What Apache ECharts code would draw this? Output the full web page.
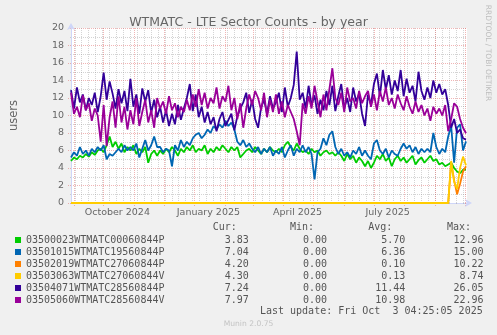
<!DOCTYPE html>
<html><head><meta charset="utf-8">
<script src="https://cdn.jsdelivr.net/npm/echarts@6/dist/echarts.min.js"></script>
<style>html,body{margin:0;padding:0;background:#F0F0F0}#c{width:497px;height:335px}</style>
</head><body><div id="c"></div>
<script>
// ---- text ----
const chartTitle = 'WTMATC - LTE Sector Counts - by year';
const yAxisName = 'users';
const sideText = 'RRDTOOL / TOBI OETIKER';
const lastUpdate = 'Last update: Fri Oct  3 04:25:05 2025';
const footer = 'Munin 2.0.75';
const statHeaders = ['Cur:', 'Min:', 'Avg:', 'Max:'];

// ---- axes ----
const startTime = '2024-08-29T04:25:05Z';
const endTime = '2025-10-03T04:25:05Z';
const stepDays = 3;
const yTicks = [0, 2, 4, 6, 8, 10, 12, 14, 16, 18, 20];
const monthLabels = ['October 2024', 'January 2025', 'April 2025', 'July 2025'];
const monthLabelDates = ['2024-10-15', '2025-01-15', '2025-04-15', '2025-07-15'];

// ---- series ----
const seriesNames = ['03500023WTMATC00060844P', '03501015WTMATC19560844P', '03502019WTMATC27060844P',
  '03503063WTMATC27060844V', '03504071WTMATC28560844P', '03505060WTMATC28560844V'];
const seriesColors = ['#00CC00', '#0066B3', '#FF8000', '#FFCC00', '#330099', '#990099'];

const green = [
  4.8, 5.2, 5.0, 5.4, 5.2, 5.6, 5.3, 5.8, 5.5, 6.0,
  6.2, 5.8, 6.6, 7.6, 6.4, 7.0, 6.2, 6.8, 5.8, 6.4,
  6.0, 6.6, 5.6, 6.2, 5.8, 6.4, 4.6, 5.6, 6.0, 5.4,
  6.0, 5.6, 6.2, 5.8, 6.4, 6.0, 5.4, 6.2, 5.8, 6.4,
  6.0, 6.6, 5.8, 6.2, 6.0, 6.6, 5.6, 6.2, 5.8, 6.4,
  6.0, 6.6, 6.2, 5.8, 6.4, 6.0, 6.4, 5.2, 5.6, 6.0,
  6.2, 5.8, 6.4, 6.0, 5.6, 6.2, 5.8, 6.4, 6.0, 5.8,
  6.2, 5.8, 6.6, 7.0, 6.4, 6.0, 6.8, 6.2, 5.8, 6.0,
  5.6, 6.2, 5.8, 6.0, 5.4, 5.8, 6.0, 5.6, 5.8, 5.4,
  5.8, 5.4, 4.8, 5.6, 5.0, 5.4, 4.6, 5.2, 4.8, 4.2,
  4.8, 4.0, 4.6, 5.4, 5.0, 5.6, 4.8, 5.2, 4.2, 5.0,
  5.4, 4.8, 5.2, 4.6, 5.0, 5.4, 4.4, 4.9, 5.2, 4.6,
  5.0, 5.4, 4.8, 5.0, 4.4, 4.6, 4.2, 4.4, 4.6, 4.0,
  3.6, 3.4, 3.8, 3.83];
const blue = [
  5.2, 5.8, 5.4, 6.4, 5.6, 6.0, 5.4, 6.2, 5.8, 6.4,
  6.0, 6.6, 5.0, 5.6, 5.4, 5.8, 6.2, 5.8, 6.6, 6.0,
  6.4, 6.0, 6.8, 5.2, 6.2, 7.2, 6.0, 6.6, 7.6, 6.4,
  6.4, 5.8, 6.2, 6.0, 4.2, 6.6, 6.0, 7.2, 6.4, 7.0,
  6.6, 7.4, 7.8, 8.0, 7.4, 7.8, 8.4, 8.0, 8.8, 8.4,
  9.0, 8.6, 9.4, 8.8, 9.2, 8.4, 7.0, 6.6, 7.2, 6.4,
  6.8, 6.2, 5.8, 6.4, 5.6, 6.2, 5.8, 6.4, 5.4, 6.0,
  5.6, 6.4, 5.2, 6.0, 6.6, 5.4, 6.2, 5.8, 6.6, 5.8,
  6.4, 5.6, 2.7, 5.8, 6.2, 7.4, 6.6, 7.8, 8.2, 6.4,
  5.6, 6.2, 5.4, 5.8, 5.2, 6.0, 5.6, 6.4, 5.4, 6.0,
  5.4, 5.0, 6.8, 7.2, 6.0, 5.6, 6.2, 5.2, 6.0, 5.6,
  5.4, 6.2, 6.8, 6.2, 6.6, 5.8, 6.4, 5.6, 6.2, 5.8,
  6.2, 5.8, 8.0, 6.4, 5.6, 6.2, 5.8, 7.6, 8.8, 4.6,
  8.6, 9.0, 6.0, 7.04];
const orange = [
  0, 0, 0, 0, 0, 0, 0, 0, 0, 0, 0, 0, 0, 0, 0, 0,
  0, 0, 0, 0, 0, 0, 0, 0, 0, 0, 0, 0, 0, 0, 0, 0,
  0, 0, 0, 0, 0, 0, 0, 0, 0, 0, 0, 0, 0, 0, 0, 0,
  0, 0, 0, 0, 0, 0, 0, 0, 0, 0, 0, 0, 0, 0, 0, 0,
  0, 0, 0, 0, 0, 0, 0, 0, 0, 0, 0, 0, 0, 0, 0, 0,
  0, 0, 0, 0, 0, 0, 0, 0, 0, 0, 0, 0, 0, 0, 0, 0,
  0, 0, 0, 0, 0, 0, 0, 0, 0, 0, 0, 0, 0, 0, 0, 0,
  0, 0, 0, 0, 0, 0, 0, 0, 0, 0, 0, 0, 0, 0, 0, 0,
  4.6, 2.6, 1.0, 2.2, 3.6, 4.2];
const yellow = [
  0, 0, 0, 0, 0, 0, 0, 0, 0, 0, 0, 0, 0, 0, 0, 0,
  0, 0, 0, 0, 0, 0, 0, 0, 0, 0, 0, 0, 0, 0, 0, 0,
  0, 0, 0, 0, 0, 0, 0, 0, 0, 0, 0, 0, 0, 0, 0, 0,
  0, 0, 0, 0, 0, 0, 0, 0, 0, 0, 0, 0, 0, 0, 0, 0,
  0, 0, 0, 0, 0, 0, 0, 0, 0, 0, 0, 0, 0, 0, 0, 0,
  0, 0, 0, 0, 0, 0, 0, 0, 0, 0, 0, 0, 0, 0, 0, 0,
  0, 0, 0, 0, 0, 0, 0, 0, 0, 0, 0, 0, 0, 0, 0, 0,
  0, 0, 0, 0, 0, 0, 0, 0, 0, 0, 0, 0, 0, 0, 0, 0,
  4.8, 2.4, 1.6, 4.0, 5.3, 4.3];
const indigo = [
  12.9, 10.8, 13.2, 11.5, 12.4, 10.6, 12.0, 11.2, 12.6, 10.4,
  12.2, 14.9, 11.8, 13.9, 12.5, 10.8, 13.0, 11.4, 12.8, 10.5,
  14.2, 11.0, 12.4, 10.2, 13.1, 11.6, 12.9, 10.3, 11.8, 9.8,
  11.0, 9.2, 10.6, 8.8, 10.2, 9.0, 11.2, 9.5, 10.8, 12.0,
  13.6, 10.5, 12.4, 9.8, 11.0, 9.2, 10.4, 9.0, 9.8, 8.2,
  9.6, 10.4, 8.8, 9.5, 10.2, 8.3, 9.9, 10.8, 11.5, 12.6,
  10.3, 11.8, 9.6, 8.6, 10.9, 11.8, 10.2, 12.2, 10.8, 11.5,
  12.6, 10.4, 13.2, 11.0, 12.0, 13.5, 17.3, 11.8, 12.6, 10.8,
  13.4, 11.2, 12.3, 10.2, 11.8, 10.6, 12.8, 11.2, 13.4, 10.5,
  12.2, 13.6, 10.8, 12.0, 10.4, 13.2, 11.6, 12.5, 10.2, 8.8,
  12.4, 11.2, 13.6, 14.8, 12.2, 15.2, 13.0, 14.6, 12.4, 14.0,
  12.8, 15.2, 12.2, 14.2, 12.6, 13.4, 11.6, 15.0, 12.8, 11.8,
  13.2, 12.0, 14.0, 12.6, 13.6, 12.4, 13.0, 11.2, 8.6, 9.6,
  8.0, 8.4, 7.4, 7.24];
const magenta = [
  12.6, 10.2, 11.0, 9.8, 12.3, 10.6, 11.4, 9.4, 10.8, 10.0,
  7.0, 11.2, 6.5, 9.8, 11.6, 8.6, 12.2, 9.2, 11.0, 8.4,
  10.6, 9.0, 12.0, 8.8, 10.4, 11.8, 9.2, 10.6, 8.6, 12.0,
  10.8, 11.6, 10.2, 12.2, 10.6, 11.4, 9.8, 11.0, 10.4, 11.8,
  10.6, 12.4, 11.0, 13.0, 11.2, 12.6, 10.8, 12.0, 11.4, 13.2,
  10.8, 12.2, 11.6, 13.4, 10.6, 12.0, 9.6, 11.4, 8.6, 10.8,
  12.4, 11.2, 12.8, 12.0, 10.6, 12.6, 9.8, 11.8, 10.4, 12.4,
  10.2, 11.6, 9.8, 11.2, 10.4, 9.6, 8.2, 6.6, 11.4, 10.2,
  12.2, 10.8, 13.4, 11.6, 9.8, 12.4, 10.6, 13.0, 15.4, 12.0,
  11.2, 12.6, 10.4, 13.2, 11.6, 12.0, 10.8, 12.8, 11.4, 12.2,
  12.8, 11.0, 12.4, 10.6, 12.8, 11.6, 13.2, 11.2, 12.0, 10.8,
  12.4, 11.4, 10.6, 12.2, 11.0, 10.2, 11.6, 10.4, 11.2, 10.0,
  10.8, 9.4, 11.0, 10.2, 10.8, 10.0, 11.2, 8.2, 9.6, 11.4,
  11.0, 9.6, 8.6, 7.97];

// ---- legend stats ----
const curVals = ['3.83', '7.04', '4.20', '4.30', '7.24', '7.97'];
const minVals = ['0.00', '0.00', '0.00', '0.00', '0.00', '0.00'];
const avgVals = ['5.70', '6.36', '0.10', '0.13', '11.44', '10.98'];
const maxVals = ['12.96', '15.00', '10.22', '8.74', '26.05', '22.96'];

// ---- build (x in days since start) ----
const DAY = 86400000;
const t0 = Date.parse(startTime), t1 = Date.parse(endTime);
const spanDays = (t1 - t0) / DAY;
const toDay = t => (t - t0) / DAY;
const allValues = [green, blue, orange, yellow, indigo, magenta];

const weekTicks = [];
for (let t = Date.UTC(2024, 8, 2); t <= t1; t += 7 * DAY) if (t >= t0) weekTicks.push(toDay(t));
const monthTicks = [];
for (let m = 8; ; m++) { const t = Date.UTC(2024, m, 1); if (t > t1) break; if (t >= t0) monthTicks.push(toDay(t)); }
const labelDays = monthLabelDates.map(d => toDay(Date.parse(d + 'T00:00:00Z')));

const minorGrid = { color: 'rgba(143,143,143,0.38)', width: 1, type: [1, 1] };
const majorGrid = { color: 'rgba(222,79,79,0.42)', width: 1, type: [1, 1] };
const axisCol = '#CFD6F8';
const fontCol = '#666666';
const mono = '"DejaVu Sans Mono", monospace';
const sans = '"DejaVu Sans", sans-serif';

function legendLine(name) {
  const i = seriesNames.indexOf(name);
  return name + curVals[i].padStart(14) + minVals[i].padStart(13) + avgVals[i].padStart(13) + maxVals[i].padStart(13);
}
function labelFor(v) {
  let best = 0, bd = Infinity;
  labelDays.forEach((d, i) => { const e = Math.abs(d - v); if (e < bd) { bd = e; best = i; } });
  return monthLabels[best];
}

const chart = echarts.init(document.getElementById('c'), null, { renderer: 'canvas' });
chart.setOption({
  animation: false,
  backgroundColor: '#F0F0F0',
  title: {
    text: chartTitle, left: 'center', top: 11,
    textStyle: { fontSize: 12.5, fontWeight: 'normal', color: fontCol, fontFamily: sans }
  },
  grid: { left: 67, right: 30, top: 28, bottom: 132, show: true, backgroundColor: '#FFFFFF', borderWidth: 0 },
  legend: {
    orient: 'vertical', left: 15, top: 234, itemWidth: 6, itemHeight: 6, itemGap: 0,
    icon: 'rect', selectedMode: false, padding: 0,
    itemStyle: { borderWidth: 0 },
    data: seriesNames,
    formatter: legendLine,
    textStyle: { fontFamily: mono, fontSize: 10, color: '#555', lineHeight: 12 }
  },
  xAxis: [
    {
      type: 'value', min: 0, max: spanDays,
      axisLine: { show: true, onZero: false, lineStyle: { color: axisCol, width: 1 }, symbol: ['none', 'arrow'], symbolSize: [6, 7], symbolOffset: [0, 5] },
      axisTick: { show: true, length: 2, lineStyle: minorGrid, customValues: weekTicks },
      axisLabel: { show: false },
      splitLine: { show: true, lineStyle: minorGrid }
    },
    {
      type: 'value', min: 0, max: spanDays, position: 'bottom',
      axisLine: { show: false, onZero: false },
      axisTick: { show: true, length: 3, lineStyle: majorGrid, customValues: monthTicks },
      axisLabel: { show: true, customValues: labelDays, margin: 5, color: fontCol, fontSize: 9.5, fontFamily: sans, formatter: labelFor },
      splitLine: { show: true, lineStyle: majorGrid }
    }
  ],
  yAxis: {
    type: 'value', min: yTicks[0], max: yTicks[yTicks.length - 1], interval: yTicks[1] - yTicks[0],
    name: yAxisName, nameLocation: 'middle', nameGap: 51, nameRotate: 90,
    nameTextStyle: { color: fontCol, fontSize: 11.5, fontFamily: sans },
    axisLine: { show: true, lineStyle: { color: axisCol, width: 1 }, symbol: ['none', 'arrow'], symbolSize: [6, 7], symbolOffset: [0, 5] },
    axisTick: { show: true, length: 3, lineStyle: majorGrid },
    minorTick: { show: true, splitNumber: 2, length: 2, lineStyle: minorGrid },
    axisLabel: { color: fontCol, fontSize: 9.5, fontFamily: sans, margin: 7 },
    splitLine: { show: true, lineStyle: majorGrid },
    minorSplitLine: { show: true, lineStyle: minorGrid }
  },
  graphic: [
    { type: 'text', x: 212.7, y: 227, style: { text: statHeaders[0], font: '10px ' + mono, fill: '#555', verticalAlign: 'middle' } },
    { type: 'text', x: 290, y: 227, style: { text: statHeaders[1], font: '10px ' + mono, fill: '#555', verticalAlign: 'middle' } },
    { type: 'text', x: 368.3, y: 227, style: { text: statHeaders[2], font: '10px ' + mono, fill: '#555', verticalAlign: 'middle' } },
    { type: 'text', x: 447, y: 227, style: { text: statHeaders[3], font: '10px ' + mono, fill: '#555', verticalAlign: 'middle' } },
    { type: 'text', x: 482.7, y: 311.5, style: { text: lastUpdate, font: '10px ' + mono, fill: '#555', align: 'right', verticalAlign: 'middle' } },
    { type: 'text', x: 248.5, y: 324, style: { text: footer, font: '7.6px ' + sans, fill: '#C4C4C4', align: 'center', verticalAlign: 'middle' } },
    { type: 'text', x: 488, y: 53, rotation: -Math.PI / 2, style: { text: sideText, font: '7.5px ' + sans, fill: '#BDBDBD', align: 'center', verticalAlign: 'middle' } }
  ],
  series: seriesNames.map((name, k) => ({
    name: name, type: 'line', xAxisIndex: 0, showSymbol: false, symbol: 'none',
    color: seriesColors[k],
    lineStyle: { color: seriesColors[k], width: 1.8 },
    data: allValues[k].map((v, i) => [i * stepDays, v]),
    z: 2 + k
  }))
});
</script>
</body></html>
